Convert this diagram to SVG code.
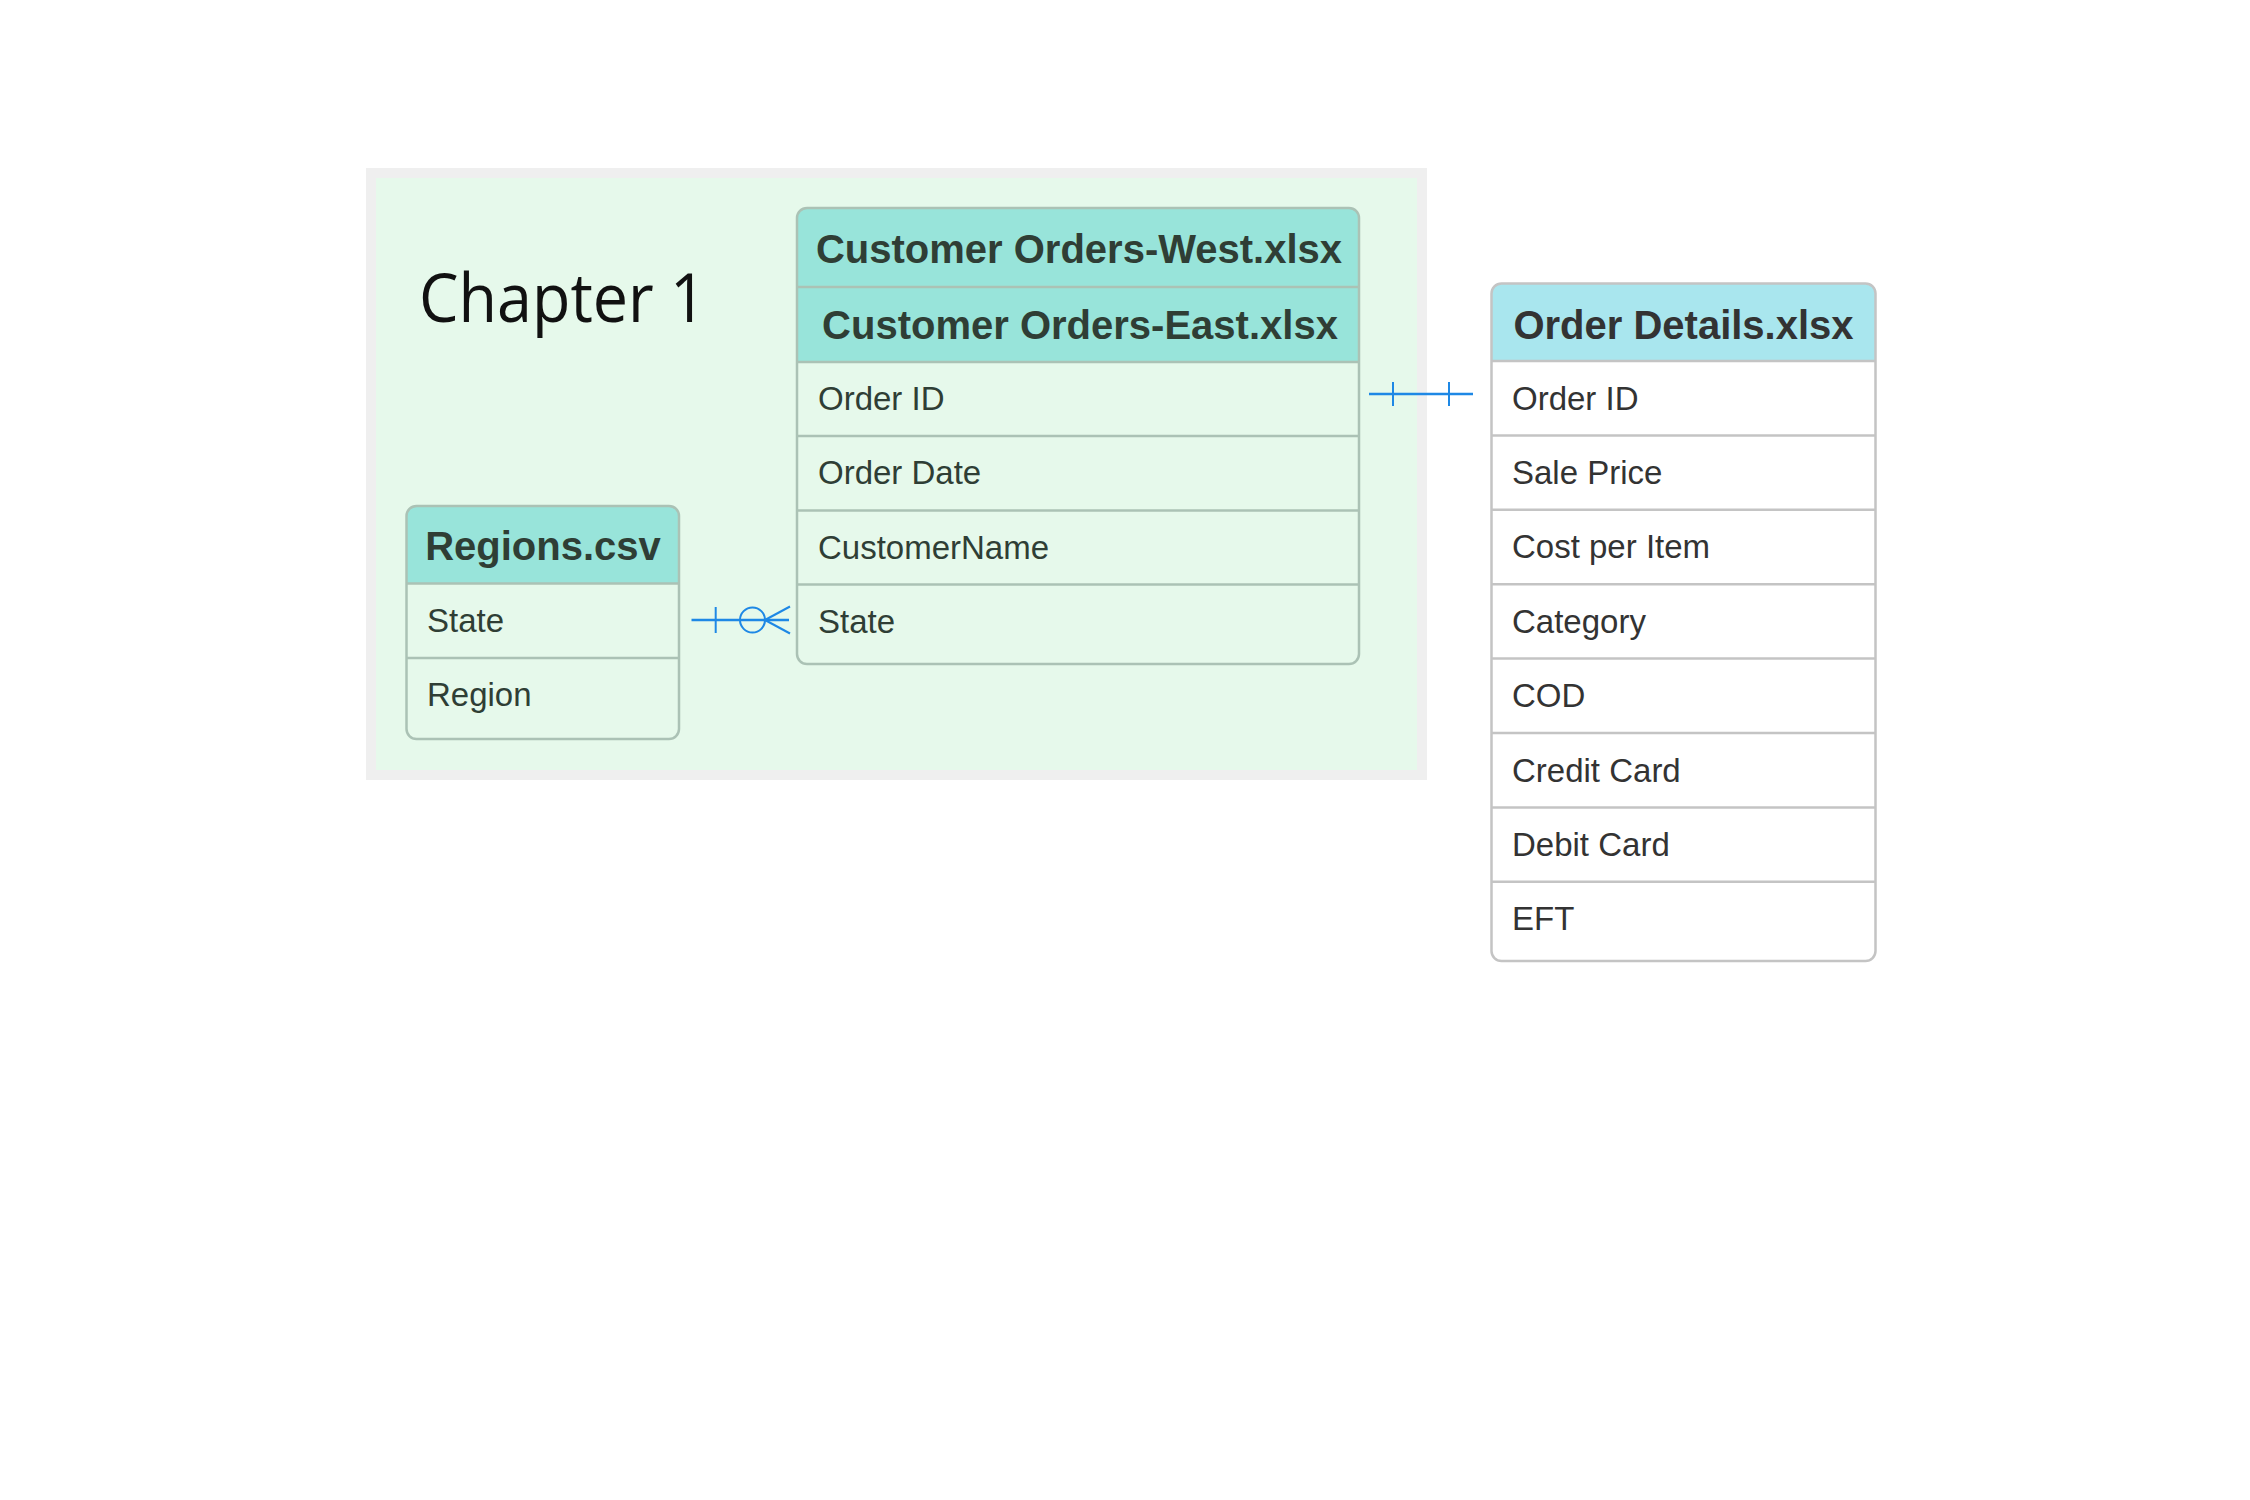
<svg xmlns="http://www.w3.org/2000/svg" width="2250" height="1500" viewBox="0 0 2250 1500">
<style>
.hdr{font-family:"Liberation Sans",Arial,sans-serif;font-weight:bold;font-size:40px;text-anchor:middle}
.fld{font-family:"Liberation Sans",Arial,sans-serif;font-size:33px}
.tealtxt{fill:#2f3e35}
.odtxt{fill:#333333}
.tealb{fill:none;stroke:#abc2b5;stroke-width:2.5}
.odb{fill:none;stroke:#c4c4c4;stroke-width:2.5}
.conn{stroke:#1e88e5;stroke-width:2.5;fill:none}
.tick{stroke:#1e88e5;stroke-width:2;fill:none}
</style>
<rect width="2250" height="1500" fill="#ffffff"/>
<g id="chapter1">
<rect x="371" y="173" width="1051" height="602" fill="#e6f9eb" stroke="#efefef" stroke-width="10"/>
<text x="419" y="322" font-family="'Open Sans','Noto Sans',sans-serif" font-size="67" fill="#111111" textLength="287" lengthAdjust="spacingAndGlyphs">Chapter 1</text>
</g>
<g id="customer-orders">
<path d="M797,362 V218 A10,10 0 0 1 807,208 H1349 A10,10 0 0 1 1359,218 V362 Z" fill="#98e4da"/>
<rect class="tealb" x="797" y="208" width="562" height="456" rx="10"/>
<line class="tealb" x1="797" y1="287" x2="1359" y2="287"/>
<line class="tealb" x1="797" y1="362" x2="1359" y2="362"/>
<line class="tealb" x1="797" y1="436" x2="1359" y2="436"/>
<line class="tealb" x1="797" y1="510.5" x2="1359" y2="510.5"/>
<line class="tealb" x1="797" y1="584.5" x2="1359" y2="584.5"/>
<text class="hdr tealtxt" x="1079" y="263">Customer Orders-West.xlsx</text>
<text class="hdr tealtxt" x="1080" y="339">Customer Orders-East.xlsx</text>
<text class="fld tealtxt" x="818" y="410">Order ID</text>
<text class="fld tealtxt" x="818" y="484">Order Date</text>
<text class="fld tealtxt" x="818" y="558.5">CustomerName</text>
<text class="fld tealtxt" x="818" y="632.5">State</text>
</g>
<g id="regions">
<path d="M406.5,583.5 V516 A10,10 0 0 1 416.5,506 H669 A10,10 0 0 1 679,516 V583.5 Z" fill="#98e4da"/>
<rect class="tealb" x="406.5" y="506" width="272.5" height="233" rx="10"/>
<line class="tealb" x1="406.5" y1="583.5" x2="679" y2="583.5"/>
<line class="tealb" x1="406.5" y1="658" x2="679" y2="658"/>
<text class="hdr tealtxt" x="543" y="560">Regions.csv</text>
<text class="fld tealtxt" x="427" y="631.5">State</text>
<text class="fld tealtxt" x="427" y="706">Region</text>
</g>
<g id="order-details">
<rect x="1491.5" y="283.5" width="384" height="677.5" rx="10" fill="#ffffff"/>
<path d="M1491.5,361 V293.5 A10,10 0 0 1 1501.5,283.5 H1865.5 A10,10 0 0 1 1875.5,293.5 V361 Z" fill="#a9e6ee"/>
<rect class="odb" x="1491.5" y="283.5" width="384" height="677.5" rx="10"/>
<line class="odb" x1="1491.5" y1="361" x2="1875.5" y2="361"/>
<line class="odb" x1="1491.5" y1="435.4" x2="1875.5" y2="435.4"/>
<line class="odb" x1="1491.5" y1="509.8" x2="1875.5" y2="509.8"/>
<line class="odb" x1="1491.5" y1="584.2" x2="1875.5" y2="584.2"/>
<line class="odb" x1="1491.5" y1="658.6" x2="1875.5" y2="658.6"/>
<line class="odb" x1="1491.5" y1="733" x2="1875.5" y2="733"/>
<line class="odb" x1="1491.5" y1="807.4" x2="1875.5" y2="807.4"/>
<line class="odb" x1="1491.5" y1="881.8" x2="1875.5" y2="881.8"/>
<text class="hdr odtxt" x="1683.5" y="339">Order Details.xlsx</text>
<text class="fld odtxt" x="1512" y="409.5">Order ID</text>
<text class="fld odtxt" x="1512" y="483.9">Sale Price</text>
<text class="fld odtxt" x="1512" y="558.3">Cost per Item</text>
<text class="fld odtxt" x="1512" y="632.7">Category</text>
<text class="fld odtxt" x="1512" y="707.1">COD</text>
<text class="fld odtxt" x="1512" y="781.5">Credit Card</text>
<text class="fld odtxt" x="1512" y="855.9">Debit Card</text>
<text class="fld odtxt" x="1512" y="930.3">EFT</text>
</g>
<g id="connectors">
<g id="conn-orderid">
<line class="conn" x1="1369" y1="394" x2="1473" y2="394"/>
<line class="tick" x1="1393" y1="382" x2="1393" y2="406"/>
<line class="tick" x1="1449" y1="382" x2="1449" y2="406"/>
</g>
<g id="conn-state">
<line class="conn" x1="691.5" y1="620" x2="789" y2="620"/>
<line class="tick" x1="715.7" y1="607" x2="715.7" y2="633"/>
<circle class="tick" cx="752.5" cy="620" r="12.5" fill="#e6f9eb"/>
<line class="tick" x1="765" y1="620" x2="790" y2="606.5"/>
<line class="tick" x1="765" y1="620" x2="790" y2="633.5"/>
</g>
</g>
</svg>
